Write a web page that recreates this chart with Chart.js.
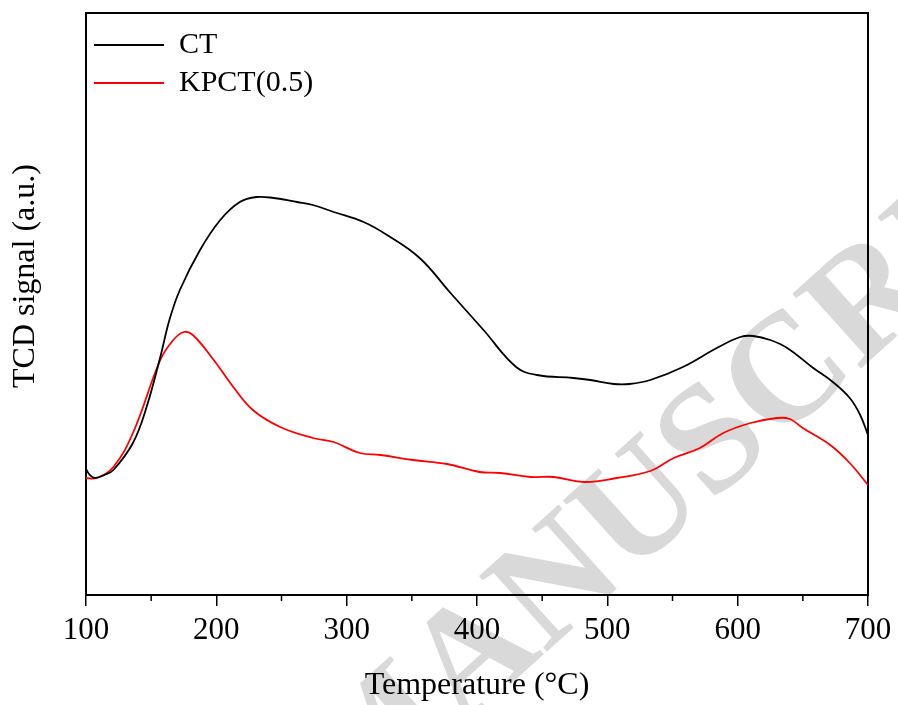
<!DOCTYPE html>
<html>
<head>
<meta charset="utf-8">
<script src="https://cdn.jsdelivr.net/npm/chart.js@4/dist/chart.umd.min.js"></script>
<style>
  html, body { margin: 0; padding: 0; background: #ffffff; }
  canvas { display: block; }
</style>
</head>
<body>
<canvas id="chart" width="898" height="705"></canvas>
<script>
// ---- data (temperature in °C, TCD signal in arbitrary units) ----
const seriesNames = ['CT', 'KPCT(0.5)'];

const temperatureCT = [100, 103, 107, 114, 121, 136, 146.5, 157, 164, 172, 187.5, 203, 218, 231, 244, 262, 274, 290, 313, 331, 356, 379, 405, 430, 446, 474, 487, 505, 517, 533, 558, 584, 602, 612, 625, 638, 658, 673, 686, 694, 700];
const signalCT      = [126, 120, 117, 120, 125, 152, 188, 238, 275, 305, 345, 375, 393, 398, 397, 393, 390, 383, 373, 360, 337, 303, 265, 228, 220, 217, 215, 211, 211, 215, 228, 247, 258, 259, 255, 247, 227, 213, 197, 180, 160];

const temperatureKPCT = [100, 108, 121, 136, 157, 167, 175, 182, 198, 213, 228, 249, 274, 290, 310, 326, 351, 377, 402, 418, 441, 459, 483, 507, 533, 551, 571, 589, 610, 630, 640, 650, 671, 686, 700];
const signalKPCT      = [117, 117, 128, 162, 235, 255, 263, 260, 235, 208, 185, 168, 157, 153, 142, 140, 135, 131, 123, 122, 118, 118, 113, 117, 124, 137, 147, 162, 172, 177, 176, 167, 150, 132, 110];

const xTickLabels = [100, 200, 300, 400, 500, 600, 700];
const xMinorTicks = [150, 250, 350, 450, 550, 650];

const xTitle = 'Temperature (°C)';
const yTitle = 'TCD signal (a.u.)';
const watermarkText = 'ACCEPTED MANUSCRIPT';

// ---- build chart ----
const serif = '"Liberation Serif", "Times New Roman", Times, serif';

const toPoints = (xs, ys) => xs.map((x, i) => ({ x: x, y: ys[i] }));

const watermarkPlugin = {
  id: 'watermark',
  beforeDraw(chart) {
    const ctx = chart.ctx;
    ctx.save();
    const size = 155;
    ctx.font = 'bold ' + size + 'px ' + serif;
    ctx.fillStyle = '#d9d9d9';
    ctx.textBaseline = 'alphabetic';
    ctx.translate(552, 578);
    ctx.rotate(-42 * Math.PI / 180);
    const pre = ctx.measureText('ACCEPTED MA').width;
    const wN = ctx.measureText('N').width;
    ctx.fillText(watermarkText, -pre - wN / 2, 0.33 * size);
    ctx.restore();
  }
};

const minorTickPlugin = {
  id: 'minorTicks',
  afterDraw(chart) {
    const s = chart.scales.x;
    const ctx = chart.ctx;
    ctx.save();
    ctx.strokeStyle = '#000';
    ctx.lineWidth = 1.5;
    xMinorTicks.forEach(v => {
      const px = s.getPixelForValue(v);
      ctx.beginPath();
      ctx.moveTo(px, s.top);
      ctx.lineTo(px, s.top + 6);
      ctx.stroke();
    });
    ctx.restore();
  }
};

new Chart(document.getElementById('chart'), {
  type: 'line',
  data: {
    datasets: [
      {
        label: seriesNames[0],
        data: toPoints(temperatureCT, signalCT),
        borderColor: '#000000',
        backgroundColor: '#000000',
        borderWidth: 1.8,
        pointRadius: 0,
        tension: 0.4,
        fill: false
      },
      {
        label: seriesNames[1],
        data: toPoints(temperatureKPCT, signalKPCT),
        borderColor: '#ff0000',
        backgroundColor: '#ff0000',
        borderWidth: 1.8,
        pointRadius: 0,
        tension: 0.4,
        fill: false
      }
    ]
  },
  options: {
    responsive: false,
    animation: false,
    events: [],
    layout: { padding: { top: 13, right: 30, left: 0, bottom: 0 } },
    plugins: {
      tooltip: { enabled: false },
      legend: {
        position: 'chartArea',
        align: 'start',
        title: { display: true, text: ' ', font: { size: 5 }, padding: { top: 16, bottom: 0 } },
        labels: {
          usePointStyle: true,
          pointStyle: 'line',
          pointStyleWidth: 70,
          padding: 8,
          color: '#000',
          font: { family: serif, size: 30 }
        }
      }
    },
    scales: {
      x: {
        type: 'linear',
        position: 'bottom',
        min: 100,
        max: 700,
        afterBuildTicks: s => { s.ticks = xTickLabels.map(v => ({ value: v })); },
        afterFit: s => { s.height = 110; },
        ticks: {
          color: '#000',
          font: { family: serif, size: 31 },
          padding: 6,
          maxRotation: 0,
          autoSkip: false
        },
        grid: { drawOnChartArea: false, drawTicks: true, tickLength: 11, color: '#000', lineWidth: 1.5 },
        border: { display: true, color: '#000', width: 2 },
        title: { display: true, text: xTitle, color: '#000', font: { family: serif, size: 32 }, padding: { top: 0, bottom: 0 } }
      },
      y: {
        type: 'linear',
        position: 'left',
        min: 0,
        max: 582,
        afterFit: s => { s.width = 86; },
        ticks: { display: false },
        grid: { display: false },
        border: { display: true, color: '#000', width: 2 },
        title: { display: true, text: '       ' + yTitle, color: '#000', font: { family: serif, size: 32 }, padding: { top: 6, bottom: 0 } }
      },
      x2: {
        type: 'linear',
        position: 'top',
        min: 100,
        max: 700,
        afterFit: s => { s.height = 0; },
        ticks: { display: false },
        grid: { display: false },
        border: { display: true, color: '#000', width: 2 }
      },
      y2: {
        type: 'linear',
        position: 'right',
        min: 0,
        max: 582,
        afterFit: s => { s.width = 0; },
        ticks: { display: false },
        grid: { display: false },
        border: { display: true, color: '#000', width: 2 }
      }
    }
  },
  plugins: [watermarkPlugin, minorTickPlugin]
});
</script>
</body>
</html>
